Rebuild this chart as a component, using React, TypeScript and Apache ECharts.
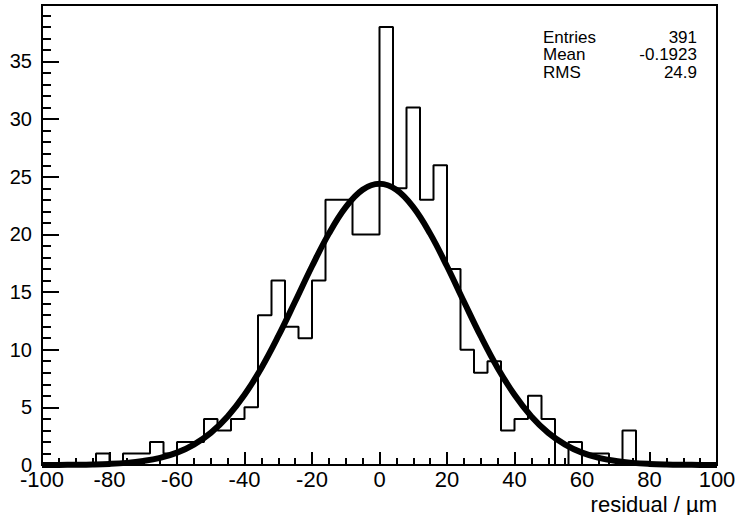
import React, { useEffect, useRef } from "react";
import * as echarts from "echarts";

// Histogram: 50 bins of width 4 from -100 to 100
const binLow = -100;
const binWidth = 4;
const binCounts = [
  0, 0, 0, 0, 1, 0, 1, 1, 2, 1,
  2, 2, 4, 3, 4, 5, 13, 16, 12, 11,
  16, 23, 23, 20, 20, 38, 24, 31, 23, 26,
  17, 10, 8, 9, 3, 4, 6, 4, 0, 2,
  1, 1, 0, 3, 0, 0, 0, 0, 0, 0,
];

// Fit curve
const fitX = [
  -100, -95, -90, -85, -80, -75, -70, -65, -60, -55, -50, -45, -40, -35, -30, -25, -20, -15, -10, -5,
  0, 5, 10, 15, 20, 25, 30, 35, 40, 45, 50, 55, 60, 65, 70, 75, 80, 85, 90, 95, 100,
];
const fitY = [
  0.004, 0.01, 0.022, 0.046, 0.094, 0.185, 0.35, 0.62, 1.07, 1.77, 2.79, 4.21, 6.09, 8.42, 11.17, 14.18, 17.24, 20.07, 22.37, 23.88,
  24.4, 23.88, 22.37, 20.07, 17.24, 14.18, 11.17, 8.42, 6.09, 4.21, 2.79, 1.77, 1.07, 0.62, 0.35, 0.185, 0.094, 0.046, 0.022, 0.01, 0.004,
];

const statNames = ["Entries", "Mean", "RMS"];
const statValues = ["391", "-0.1923", "24.9"];

const xTitle = "residual / µm";

const FONT = "'Liberation Sans', Arial, Helvetica, sans-serif";

export default function App() {
  const ref = useRef<HTMLDivElement>(null);

  useEffect(() => {
    if (!ref.current) return;
    const chart = echarts.init(ref.current, undefined, { renderer: "svg" });

    const histData: [number, number][] = binCounts.map((c, i) => [binLow + i * binWidth, c]);
    histData.push([binLow + binCounts.length * binWidth, binCounts[binCounts.length - 1]]);

    const fitData = fitX.map((x, i) => [x, fitY[i]]);

    const statGraphics: any[] = [];
    statNames.forEach((n, i) => {
      const y = 37 + i * 17.5;
      statGraphics.push({
        type: "text",
        x: 543,
        y,
        style: { text: n, font: `17px ${FONT}`, fill: "#000", textAlign: "left", textVerticalAlign: "middle" },
      });
      statGraphics.push({
        type: "text",
        x: 697,
        y,
        style: { text: statValues[i], font: `17px ${FONT}`, fill: "#000", textAlign: "right", textVerticalAlign: "middle" },
      });
    });

    chart.setOption({
      animation: false,
      backgroundColor: "#fff",
      grid: {
        left: 42,
        right: 25,
        top: 5,
        bottom: 50,
        show: true,
        borderColor: "#000",
        borderWidth: 2,
        backgroundColor: "transparent",
      },
      xAxis: {
        type: "value",
        min: -100,
        max: 100,
        interval: 20,
        axisLine: { show: true, onZero: false, lineStyle: { color: "#000", width: 2 } },
        axisTick: { show: true, inside: true, length: 13, lineStyle: { color: "#000", width: 2 } },
        minorTick: { show: true, splitNumber: 4, length: 7, lineStyle: { color: "#000", width: 2 } },
        splitLine: { show: false },
        minorSplitLine: { show: false },
        axisLabel: { color: "#000", fontSize: 22, fontFamily: FONT, margin: 3 },
      },
      yAxis: {
        type: "value",
        min: 0,
        max: 39.9,
        interval: 5,
        axisLine: { show: true, onZero: false, lineStyle: { color: "#000", width: 2 } },
        axisTick: { show: true, inside: true, length: 17, lineStyle: { color: "#000", width: 2 } },
        minorTick: { show: true, splitNumber: 5, length: 9, lineStyle: { color: "#000", width: 2 } },
        splitLine: { show: false },
        minorSplitLine: { show: false },
        axisLabel: { color: "#000", fontSize: 20, fontFamily: FONT, margin: 10, showMaxLabel: false },
      },
      series: [
        {
          type: "line",
          data: histData,
          step: "end",
          symbol: "none",
          lineStyle: { color: "#000", width: 2 },
          z: 2,
        },
        {
          type: "line",
          data: fitData,
          smooth: 0.4,
          symbol: "none",
          lineStyle: { color: "#000", width: 6 },
          z: 3,
        },
      ],
      graphic: [
        ...statGraphics,
        {
          type: "text",
          x: 717,
          y: 504,
          style: { text: xTitle, font: `22px ${FONT}`, fill: "#000", textAlign: "right", textVerticalAlign: "middle" },
        },
      ],
    });

    return () => chart.dispose();
  }, []);

  return (
    <div
      ref={ref}
      style={{ position: "fixed", left: 0, top: 0, width: 742, height: 515, background: "#fff" }}
    />
  );
}
